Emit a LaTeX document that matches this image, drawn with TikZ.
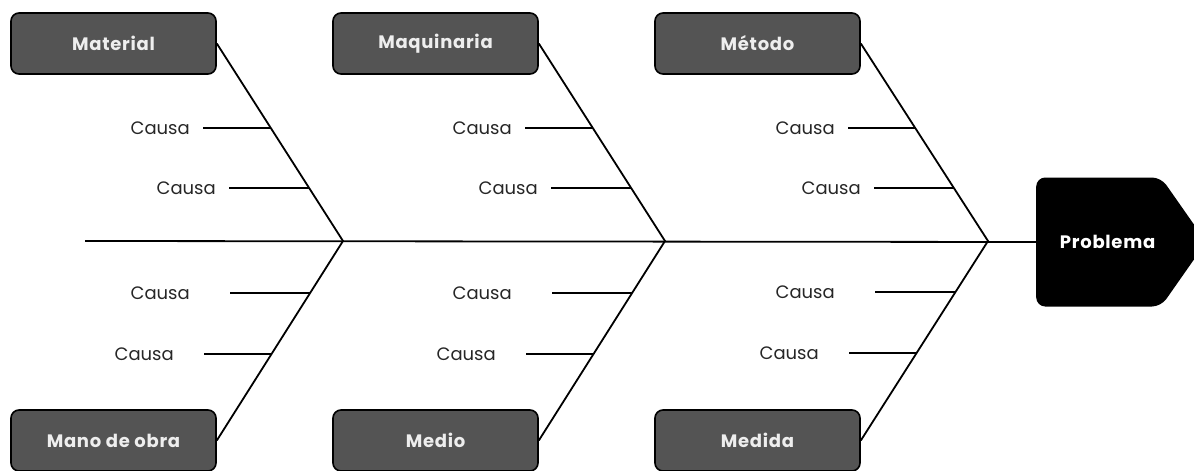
\documentclass[tikz,border=0pt]{standalone}
\usepackage{fontspec}
\setmainfont{Poppins}
\newfontfamily\catfont{Poppins}[LetterSpace=4]
\usetikzlibrary{positioning,calc,shapes.symbols}
\definecolor{catgray}{RGB}{84,84,84}
\definecolor{cattext}{RGB}{238,238,238}

\begin{document}
\begin{tikzpicture}[x=1pt, y=-1pt,
    cat/.style={draw=black, fill=catgray, rounded corners=8pt, line width=1.6pt,
                minimum width=205pt, minimum height=61pt, text=cattext,
                font=\catfont\bfseries\fontsize{18}{21}\selectfont},
    head/.style={signal, signal to=east, signal pointer angle=110, fill=black,
                 rounded corners=9pt, minimum width=170pt, minimum height=129pt,
                 text=white, font=\catfont\bfseries\fontsize{18}{21}\selectfont},
    bone/.style={line width=1.8pt, draw=black},
    lbl/.style={anchor=east, inner sep=0pt, text=black!85,
                font=\fontsize{18}{21}\selectfont}
]
\useasboundingbox (0,0) rectangle (1194,471);

% spine and head
\coordinate (s0) at (85,241);
\coordinate (j1) at (343,241);
\coordinate (j2) at (665,241);
\coordinate (j3) at (988,241);
\node[head, anchor=west] (prob) at (1036,242) {\hspace*{18pt}Problema};
\draw[bone] (s0) -- (prob.west);

% categories
\node[cat] (mat) at (113.5,43.5) {Material};
\node[cat] (maq) at (435.5,43.5) {Maquinaria};
\node[cat] (met) at (757.5,43.5) {Método};
\node[cat] (mano) at (113.5,440.5) {Mano de obra};
\node[cat] (medio) at (435.5,440.5) {Medio};
\node[cat] (medida) at (757.5,440.5) {Medida};

% bones
\draw[bone] (mat.east) -- (j1) -- (mano.east);
\draw[bone] (maq.east) -- (j2) -- (medio.east);
\draw[bone] (met.east) -- (j3) -- (medida.east);

% causes, first group
\node[lbl] (c1a) at (190,128) {Causa};
\node[lbl] (c1b) at (216,188) {Causa};
\node[lbl] (c1c) at (190,293) {Causa};
\node[lbl] (c1d) at (174,354) {Causa};
\draw[bone] ($(c1a.east)+(13,0)$) -- ($(mat.east)!0.428!(j1)$);
\draw[bone] ($(c1b.east)+(13,0)$) -- ($(mat.east)!0.732!(j1)$);
\draw[bone] ($(c1c.east)+(40,0)$) -- ($(j1)!0.261!(mano.east)$);
\draw[bone] ($(c1d.east)+(30,0)$) -- ($(j1)!0.566!(mano.east)$);

% causes, second group
\node[lbl] (c2a) at (512,128) {Causa};
\node[lbl] (c2b) at (538,188) {Causa};
\node[lbl] (c2c) at (512,293) {Causa};
\node[lbl] (c2d) at (496,354) {Causa};
\draw[bone] ($(c2a.east)+(13,0)$) -- ($(maq.east)!0.428!(j2)$);
\draw[bone] ($(c2b.east)+(13,0)$) -- ($(maq.east)!0.732!(j2)$);
\draw[bone] ($(c2c.east)+(40,0)$) -- ($(j2)!0.261!(medio.east)$);
\draw[bone] ($(c2d.east)+(30,0)$) -- ($(j2)!0.566!(medio.east)$);

% causes, third group
\node[lbl] (c3a) at (835,128) {Causa};
\node[lbl] (c3b) at (861,188) {Causa};
\node[lbl] (c3c) at (835,292) {Causa};
\node[lbl] (c3d) at (819,353) {Causa};
\draw[bone] ($(c3a.east)+(13,0)$) -- ($(met.east)!0.428!(j3)$);
\draw[bone] ($(c3b.east)+(13,0)$) -- ($(met.east)!0.732!(j3)$);
\draw[bone] ($(c3c.east)+(40,0)$) -- ($(j3)!0.256!(medida.east)$);
\draw[bone] ($(c3d.east)+(30,0)$) -- ($(j3)!0.561!(medida.east)$);
\end{tikzpicture}
\end{document}
